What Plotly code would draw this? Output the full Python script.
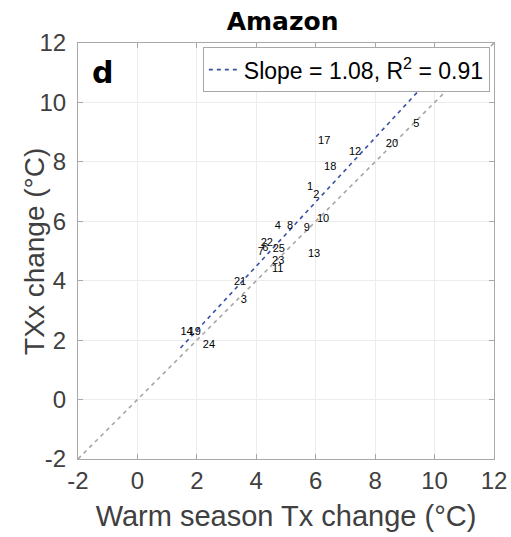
import numpy as np
import plotly.graph_objects as go

# Model number, warm-season mean Tx change and TXx change (°C) over the Amazon
model_ids = ["1", "2", "3", "4", "5", "6", "7", "8", "9", "10", "11", "12", "13",
             "14", "17", "18", "19", "20", "21", "22", "23", "24", "25"]
tx_change = [5.71, 5.92, 3.48, 4.62, 9.28, 4.20, 4.05, 5.03, 5.60, 6.04, 4.53, 7.12, 5.74,
             1.45, 6.08, 6.28, 1.72, 8.36, 3.25, 4.15, 4.53, 2.20, 4.55]
txx_change = [7.13, 6.88, 3.35, 5.84, 9.27, 5.10, 4.96, 5.84, 5.78, 6.08, 4.39, 8.33, 4.89,
              2.27, 8.70, 7.83, 2.27, 8.60, 3.96, 5.25, 4.66, 1.83, 5.07]

fit_slope = 1.08
fit_intercept = 0.17
fit_r2 = 0.91

axis_range = [-2, 12]
tick_vals = [-2, 0, 2, 4, 6, 8, 10, 12]
tick_text = ["-2", "0", "2", "4", "6", "8", "10", "12"]

FONT = "Liberation Sans, Arial, sans-serif"
BOLD_FONT = "DejaVu Sans, Liberation Sans, sans-serif"
AXIS_GRAY = "#a8a8a8"
TEXT_GRAY = "#404040"

fig = go.Figure()

# 1:1 reference line across the full axis span
fig.add_trace(go.Scatter(
    x=axis_range, y=axis_range, mode="lines",
    line=dict(color="#a6a6a6", width=1.6, dash="4px,4px"),
    showlegend=False, hoverinfo="skip",
))

# Linear regression line over the range of the models
x_fit = np.array([min(tx_change), max(tx_change) + 0.3])
fig.add_trace(go.Scatter(
    x=x_fit, y=fit_slope * x_fit + fit_intercept, mode="lines",
    line=dict(color="#3a4fa6", width=1.6, dash="4px,4px"),
    name=f"Slope = {fit_slope:.2f}, R<sup>2</sup> = {fit_r2:.2f}",
))

# Model numbers plotted at each model's position
fig.add_trace(go.Scatter(
    x=tx_change, y=txx_change, mode="text", text=model_ids,
    textposition="middle right",
    textfont=dict(family=FONT, size=11, color="black"),
    showlegend=False, hoverinfo="skip",
))

axis_common = dict(
    range=axis_range, tickvals=tick_vals, ticktext=tick_text,
    showgrid=True, gridcolor="#ececec", gridwidth=1, automargin=False,
    zeroline=False, showline=True, linecolor=AXIS_GRAY, linewidth=1, mirror="ticks",
    ticks="inside", ticklen=5, tickcolor=AXIS_GRAY,
    tickfont=dict(family=FONT, size=24, color=TEXT_GRAY),
)

fig.update_layout(
    width=511, height=537,
    margin=dict(l=78, r=17, t=43, b=78),
    paper_bgcolor="white", plot_bgcolor="white",
    title=dict(text="<b>Amazon</b>", x=0.553, xanchor="center", y=0.96, yanchor="middle",
               font=dict(family=BOLD_FONT, size=25, color="black")),
    xaxis=dict(axis_common, ticklabelstandoff=0,
               title=dict(text="Warm season Tx change (°C)", standoff=12,
                          font=dict(family=FONT, size=29, color=TEXT_GRAY))),
    yaxis=dict(axis_common, ticklabelstandoff=6),
    legend=dict(x=0.99, xanchor="right", y=0.99, yanchor="top",
                bgcolor="white", bordercolor=AXIS_GRAY, borderwidth=1,
                font=dict(family=FONT, size=23, color="black"),
                itemwidth=30, tracegroupgap=0),
    showlegend=True,
)

# Vertical axis title, set close to the tick labels
fig.add_annotation(text="TXx change (°C)", xref="paper", yref="paper", x=-0.106, y=0.5,
                   xanchor="center", yanchor="middle", textangle=-90, showarrow=False,
                   font=dict(family=FONT, size=28, color=TEXT_GRAY))

# Panel letter
fig.add_annotation(text="<b>d</b>", xref="paper", yref="paper", x=0.03, y=0.93,
                   xanchor="left", yanchor="middle", showarrow=False,
                   font=dict(family=BOLD_FONT, size=30, color="black"))

fig.write_html("out.html")
